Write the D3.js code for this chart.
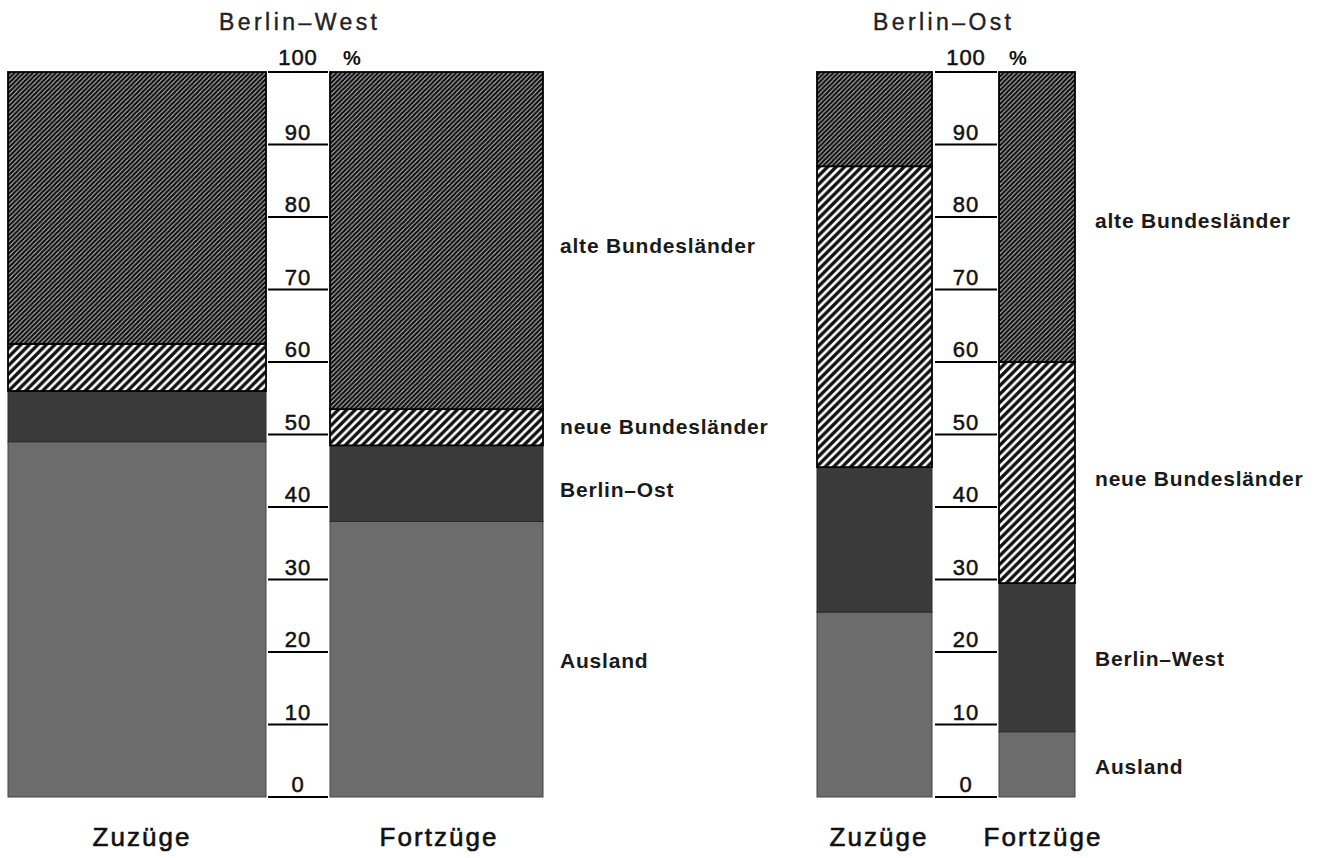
<!DOCTYPE html>
<html>
<head>
<meta charset="utf-8">
<script src="https://cdn.jsdelivr.net/npm/d3@7"></script>
<style>
  html, body { margin: 0; padding: 0; background: #fff; }
  svg { display: block; font-family: "Liberation Sans", Arial, sans-serif; }
</style>
</head>
<body>
<svg id="chart" width="1317" height="858"></svg>
<script>
// ---------------- DATA ----------------
const segmentKeys = ["ausland", "berlin", "neue", "alte"];
const westLegend = ["Ausland", "Berlin–Ost", "neue Bundesländer", "alte Bundesländer"];
const ostLegend  = ["Ausland", "Berlin–West", "neue Bundesländer", "alte Bundesländer"];
// percentages, bottom to top: Ausland, Berlin (other half), neue BL, alte BL
const westZuzuege  = [49, 7, 6.5, 37.5];
const westFortzuege = [38, 10.5, 5, 46.5];
const ostZuzuege   = [25.5, 20, 41.5, 13];
const ostFortzuege = [9, 20.5, 30.5, 40];
const barLabels = ["Zuzüge", "Fortzüge"];
const panelTitles = ["Berlin–West", "Berlin–Ost"];
const tickValues = [0, 10, 20, 30, 40, 50, 60, 70, 80, 90, 100];

// ---------------- LAYOUT ----------------
const panels = [
  { title: panelTitles[0], titleX: 298, titleW: 158, legend: westLegend,
    bars: [ { values: westZuzuege, x0: 8, x1: 266, labelX: 141, labelW: 97 },
            { values: westFortzuege, x0: 330, x1: 543, labelX: 438, labelW: 117 } ],
    col: [268, 328], pctX: 352, legendX: 560,
    legendY: [668, 497, 434, 253] },
  { title: panelTitles[1], titleX: 942, titleW: 138, legend: ostLegend,
    bars: [ { values: ostZuzuege, x0: 817, x1: 932, labelX: 878, labelW: 97 },
            { values: ostFortzuege, x0: 999, x1: 1075, labelX: 1042, labelW: 117 } ],
    col: [935, 997], pctX: 1018, legendX: 1095,
    legendY: [774, 666, 486, 228] }
];

const y = d3.scaleLinear().domain([0, 100]).range([797, 72]);
const svg = d3.select("#chart");

// patterns
const defs = svg.append("defs");
function hatch(id, size, sw) {
  const p = defs.append("pattern").attr("id", id)
    .attr("patternUnits", "userSpaceOnUse")
    .attr("width", size).attr("height", size);
  p.append("rect").attr("width", size).attr("height", size).attr("fill", "#fff");
  p.append("path")
    .attr("d", `M0,${size} L${size},0 M${-size/2},${size/2} L${size/2},${-size/2} M${size/2},${size*1.5} L${size*1.5},${size/2}`)
    .attr("stroke", "#111").attr("stroke-width", sw);
}
hatch("hAlte", 4.6, 2.5);
hatch("hNeue", 8.5, 3.4);

const fills = { ausland: "#6c6c6c", berlin: "#3a3a3a", neue: "url(#hNeue)", alte: "url(#hAlte)" };
const strokes = { ausland: "#444", berlin: "#2a2a2a", neue: "#000", alte: "#000" };

const stack = d3.stack().keys(segmentKeys);

panels.forEach(panel => {
  // title
  svg.append("text").attr("x", panel.titleX).attr("y", 30)
    .attr("text-anchor", "middle").attr("font-size", 23)
    .attr("stroke", "#222").attr("stroke-width", 0.4)
    .attr("textLength", panel.titleW).attr("lengthAdjust", "spacing")
    .attr("fill", "#222").text(panel.title);

  // bars
  panel.bars.forEach((bar, bi) => {
    const row = {}; segmentKeys.forEach((k, i) => row[k] = bar.values[i]);
    const series = stack([row]);
    const g = svg.append("g");
    series.forEach(s => {
      const d = s[0];
      g.append("rect")
        .attr("x", bar.x0).attr("width", bar.x1 - bar.x0)
        .attr("y", y(d[1])).attr("height", y(d[0]) - y(d[1]))
        .attr("fill", fills[s.key])
        .attr("stroke", strokes[s.key])
        .attr("stroke-width", s.key === "ausland" || s.key === "berlin" ? 1 : 1.8);
    });
    // bar label
    svg.append("text").attr("x", bar.labelX).attr("y", 846)
      .attr("text-anchor", "middle").attr("font-size", 26)
      .attr("stroke", "#111").attr("stroke-width", 0.6)
      .attr("textLength", bar.labelW).attr("lengthAdjust", "spacing")
      .attr("fill", "#111").text(barLabels[bi]);
  });

  // scale column
  const [c0, c1] = panel.col;
  svg.append("rect").attr("x", c0).attr("y", y(100)).attr("width", c1 - c0)
    .attr("height", y(0) - y(100)).attr("fill", "#fff");
  const tg = svg.append("g");
  tg.selectAll("line").data(tickValues).join("line")
    .attr("x1", c0).attr("x2", c1)
    .attr("y1", d => y(d)).attr("y2", d => y(d))
    .attr("stroke", "#000").attr("stroke-width", 1.8);
  tg.selectAll("text").data(tickValues).join("text")
    .attr("x", (c0 + c1) / 2)
    .attr("y", d => d === 100 ? y(d) - 7 : y(d) - 5)
    .attr("text-anchor", "middle").attr("font-size", 22)
    .attr("stroke", "#111").attr("stroke-width", 0.5)
    .attr("letter-spacing", 1).attr("fill", "#111")
    .text(d => d);
  svg.append("text").attr("x", panel.pctX).attr("y", y(100) - 7)
    .attr("text-anchor", "middle").attr("font-size", 20).attr("font-weight", "bold")
    .attr("fill", "#111").text("%");

  // legend labels
  panel.legend.forEach((lab, i) => {
    svg.append("text").attr("x", panel.legendX).attr("y", panel.legendY[i])
      .attr("font-size", 21).attr("font-weight", "bold")
      .attr("letter-spacing", 0.8).attr("fill", "#1a1a1a").text(lab);
  });
});
</script>
</body>
</html>
